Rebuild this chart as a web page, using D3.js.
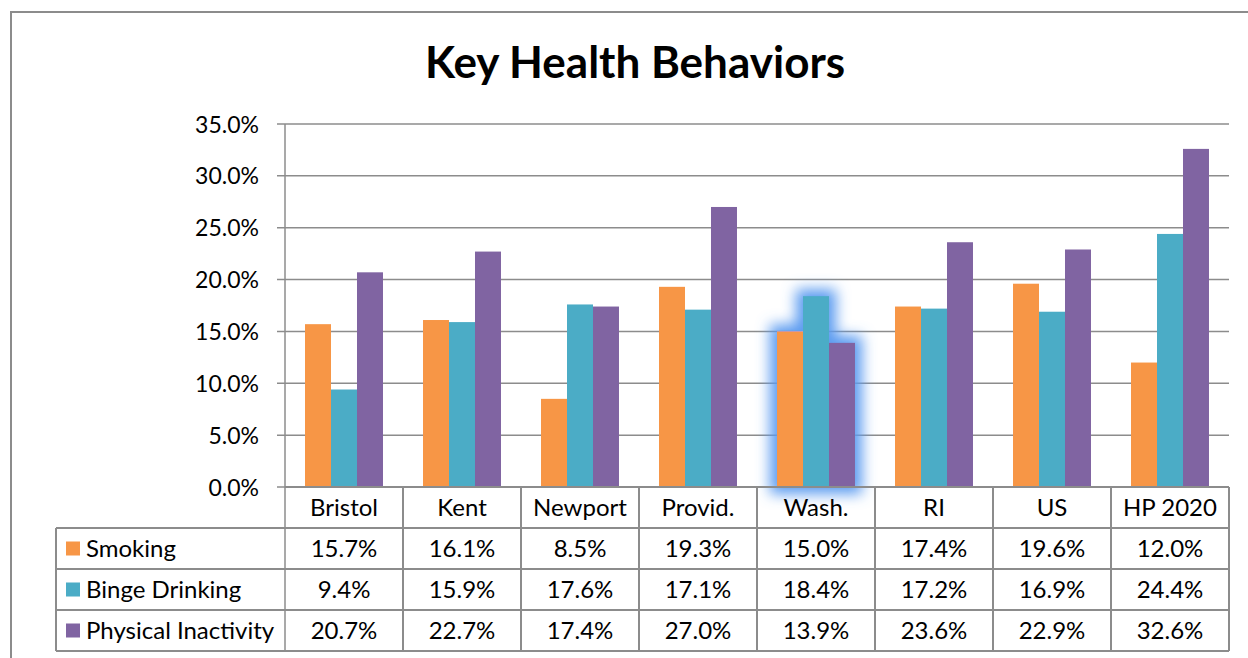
<!DOCTYPE html>
<html>
<head>
<meta charset="utf-8">
<script src="https://cdn.jsdelivr.net/npm/d3@7"></script>
<style>
  body { margin: 0; background: #fff; }
  text { font-family: Lato, "Noto Sans", sans-serif; fill: #000; }
</style>
</head>
<body>
<div id="chart-area"></div>
<script>
// data
var categories = ["Bristol", "Kent", "Newport", "Provid.", "Wash.", "RI", "US", "HP 2020"];
var seriesNames = ["Smoking", "Binge Drinking", "Physical Inactivity"];
var smoking = [15.7, 16.1, 8.5, 19.3, 15.0, 17.4, 19.6, 12.0];
var binge = [9.4, 15.9, 17.6, 17.1, 18.4, 17.2, 16.9, 24.4];
var inactivity = [20.7, 22.7, 17.4, 27.0, 13.9, 23.6, 22.9, 32.6];
var yTicks = [0, 5, 10, 15, 20, 25, 30, 35];
var highlighted = "Wash.";

var width = 1248, height = 658;
var plot = {left: 285, right: 1229, top: 124, bottom: 487};
var rowH = 41;

var svg = d3.select("#chart-area")
  .append("svg")
  .attr("width", width)
  .attr("height", height);

var colors = d3.scaleOrdinal()
  .domain(seriesNames)
  .range(["#F79646", "#4BACC6", "#8064A2"]);

var allSeries = [smoking, binge, inactivity];

// soft glow for the selected group
var defs = svg.append("defs");
var glow = defs.append("filter").attr("id", "glow")
  .attr("x", "-50%").attr("y", "-50%").attr("width", "200%").attr("height", "200%");
glow.append("feMorphology").attr("in", "SourceAlpha").attr("operator", "dilate").attr("radius", 7).attr("result", "fat");
glow.append("feGaussianBlur").attr("in", "fat").attr("stdDeviation", 7).attr("result", "blur");
glow.append("feFlood").attr("flood-color", "#5b9bf0").attr("flood-opacity", 1);
glow.append("feComposite").attr("in2", "blur").attr("operator", "in").attr("result", "glowC");
var merge = glow.append("feMerge");
merge.append("feMergeNode").attr("in", "glowC");
merge.append("feMergeNode").attr("in", "SourceGraphic");

// outer border
svg.append("rect")
  .attr("x", 11).attr("y", 12)
  .attr("width", width + 20).attr("height", height + 20)
  .attr("fill", "none")
  .attr("stroke", "#8c8c8c")
  .attr("stroke-width", 2);

// title
svg.append("text")
  .attr("x", 635).attr("y", 78)
  .attr("text-anchor", "middle")
  .attr("font-size", "44px")
  .attr("font-weight", "bold")
  .text("Key Health Behaviors");

var x = d3.scaleBand()
  .domain(categories)
  .range([plot.left, plot.right]);

var x1 = d3.scaleBand()
  .domain(seriesNames)
  .range([0, x.bandwidth()])
  .paddingOuter(0.77)
  .paddingInner(0);

var y = d3.scaleLinear()
  .domain([0, 35])
  .range([plot.bottom, plot.top]);

// gridlines
svg.append("g")
  .selectAll("line")
  .data(yTicks)
  .enter().append("line")
  .attr("x1", plot.left - 8).attr("x2", plot.right)
  .attr("y1", d => y(d)).attr("y2", d => y(d))
  .attr("stroke", "#8c8c8c")
  .attr("stroke-width", 1.5);

// y axis labels
var yAxis = d3.axisLeft(y)
  .tickValues(yTicks)
  .tickSize(0)
  .tickPadding(26)
  .tickFormat(d => d.toFixed(1) + "%");
var yg = svg.append("g")
  .attr("transform", "translate(" + plot.left + ",0)")
  .call(yAxis);
yg.select(".domain").remove();
yg.selectAll("text")
  .attr("font-size", "23px")
  .attr("dy", "0.35em")
  .style("font-family", "Lato, 'Noto Sans', sans-serif")
  .attr("fill", "#000");

// bars
var groups = svg.append("g")
  .selectAll("g")
  .data(categories)
  .enter().append("g")
  .attr("transform", d => "translate(" + x(d) + ",0)")
  .attr("filter", d => d === highlighted ? "url(#glow)" : null);

groups.selectAll("rect")
  .data((c, i) => seriesNames.map((s, k) => ({series: s, value: allSeries[k][i]})))
  .enter().append("rect")
  .attr("x", d => x1(d.series))
  .attr("y", d => y(d.value))
  .attr("width", x1.bandwidth())
  .attr("height", d => y(0) - y(d.value))
  .attr("fill", d => colors(d.series));

// y axis line
svg.append("line")
  .attr("x1", plot.left).attr("x2", plot.left)
  .attr("y1", plot.top).attr("y2", plot.bottom + rowH * 4 - 1)
  .attr("stroke", "#8c8c8c").attr("stroke-width", 1.5);

// data table
var tableLeft = 56;
var table = svg.append("g");
var lineCol = "#8c8c8c";

// horizontal lines
[0, 1, 2, 3, 4].forEach(r => {
  var yy = plot.bottom + r * rowH;
  table.append("line")
    .attr("x1", r === 0 ? plot.left : tableLeft).attr("x2", plot.right)
    .attr("y1", yy).attr("y2", yy)
    .attr("stroke", lineCol).attr("stroke-width", 2);
});
// vertical lines
table.append("line")
  .attr("x1", tableLeft).attr("x2", tableLeft)
  .attr("y1", plot.bottom + rowH).attr("y2", plot.bottom + rowH * 4)
  .attr("stroke", lineCol).attr("stroke-width", 2);
categories.forEach(c => {
  table.append("line")
    .attr("x1", x(c) + x.bandwidth()).attr("x2", x(c) + x.bandwidth())
    .attr("y1", plot.bottom).attr("y2", plot.bottom + rowH * 4)
    .attr("stroke", lineCol).attr("stroke-width", 2);
});

// header labels
table.selectAll("text.cat")
  .data(categories)
  .enter().append("text")
  .attr("class", "cat")
  .attr("x", d => x(d) + x.bandwidth() / 2)
  .attr("y", plot.bottom + rowH / 2)
  .attr("dy", "0.35em")
  .attr("text-anchor", "middle")
  .attr("font-size", "24px")
  .text(d => d);

// rows
seriesNames.forEach((s, k) => {
  var cy = plot.bottom + rowH * (k + 1) + rowH / 2;
  table.append("rect")
    .attr("x", 66).attr("y", cy - 7)
    .attr("width", 14).attr("height", 14)
    .attr("fill", colors(s));
  table.append("text")
    .attr("x", 86).attr("y", cy)
    .attr("dy", "0.35em")
    .attr("font-size", "24px")
    .text(s);
  table.selectAll("text.v" + k)
    .data(allSeries[k])
    .enter().append("text")
    .attr("class", "v" + k)
    .attr("x", (d, i) => x(categories[i]) + x.bandwidth() / 2)
    .attr("y", cy)
    .attr("dy", "0.35em")
    .attr("text-anchor", "middle")
    .attr("font-size", "24px")
    .text(d => d.toFixed(1) + "%");
});
</script>
</body>
</html>
